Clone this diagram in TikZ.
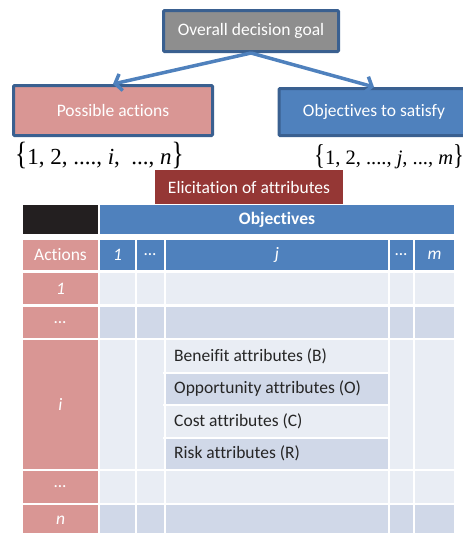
\documentclass[tikz,border=0pt]{standalone}
\usepackage{fontspec}
\usepackage{graphicx}
\setmainfont{Carlito}[Ligatures = NoCommon]
\newfontfamily\setserif{Liberation Serif}
\usetikzlibrary{arrows.meta}

\definecolor{goalgray}{HTML}{8E8E8E}
\definecolor{frameblue}{HTML}{3A6090}
\definecolor{actpink}{HTML}{D99694}
\definecolor{objblue}{HTML}{4F81BD}
\definecolor{elicitred}{HTML}{953735}
\definecolor{cellpale}{HTML}{E9EDF4}
\definecolor{celldark}{HTML}{D0D8E8}
\definecolor{cornerblack}{HTML}{231F20}

\newcommand{\tallbrace}[1]{\scalebox{1.1}[1.4]{#1}}

\tikzset{
    topbox/.style = {draw = frameblue, line width = 3pt, rounded corners = 1pt, inner sep = 0pt,
        text = white, font = \fontsize{17.5}{20}\selectfont},
    goalarrow/.style = {draw = objblue, line width = 3.5pt, -{Straight Barb[length = 6pt, width = 17pt]}},
    celltext/.style = {inner sep = 0pt, text = white, font = \fontsize{17.5}{20}\selectfont},
    attrtext/.style = {inner sep = 0pt, anchor = west, text = black!85, font = \fontsize{17.5}{20}\selectfont}
}

\begin{document}
\begin{tikzpicture}[x = 1pt, y = -1pt]
    \useasboundingbox (0,0) rectangle (463,533);
    % top part
    \node[topbox, fill = goalgray, minimum width = 175pt, minimum height = 41pt] (goal) at (251,31) {Overall decision goal};
    \node[topbox, fill = actpink, minimum width = 199pt, minimum height = 50pt] (actions) at (113,110.5) {Possible actions};
    \node[topbox, fill = objblue, minimum width = 190pt, minimum height = 47pt] (objectives) at (374,112) {Objectives to satisfy};
    \draw[goalarrow] (goal.south) -- (actions.north);
    \draw[goalarrow] (goal.south) -- (objectives.north);
    \node[anchor = base west, inner sep = 0pt, font = \fontsize{23}{25}\selectfont\setserif] (actset) at (15,164)
        {\tallbrace{\{}1, 2, ...., \textit{i}, \ ..., \textit{n}\tallbrace{\}}};
    \node[anchor = base west, inner sep = 0pt, font = \fontsize{20.5}{22}\selectfont\setserif] (objset) at (314,164)
        {\tallbrace{\{}1, 2, ...., \textit{j}, ..., \textit{m}\tallbrace{\}}};
    \node[celltext, fill = elicitred, minimum width = 188pt, minimum height = 34pt] (elicit) at (249,187) {Elicitation of attributes};
    % table head
    \fill[cornerblack] (23,205) rectangle (98,234);
    \fill[objblue] (100,205) rectangle (454,234);
    \node[celltext, font = \fontsize{17.5}{20}\selectfont\bfseries] (objhead) at (277,219.5) {Objectives};
    \begin{scope}[fill = objblue]
        \fill (100,240) rectangle (135,270);
        \fill (137,240) rectangle (164,270);
        \fill (166,240) rectangle (388,270);
        \fill (390,240) rectangle (413,270);
        \fill (415,240) rectangle (454,270);
    \end{scope}
    \node[celltext] (objone) at (117.5,255) {\textit{1}};
    \node[celltext] (objdotsa) at (150.5,255) {\textit{…}};
    \node[celltext] (objj) at (277,255) {\textit{j}};
    \node[celltext] (objdotsb) at (401.5,255) {\textit{…}};
    \node[celltext] (objm) at (434.5,255) {\textit{m}};
    % table body
    \foreach \ya/\yb/\shade in {273/304/cellpale, 307/338/celldark, 340/469/cellpale, 471/503/cellpale, 505/540/celldark}
        \foreach \xa/\xb in {100/135, 137/164, 166/388, 390/413, 415/454}
            \fill[\shade] (\xa,\ya) rectangle (\xb,\yb);
    \fill[white] (163,371.5) rectangle (389,373.5);
    \fill[white] (163,403.5) rectangle (389,405.5);
    \fill[white] (163,437) rectangle (389,439);
    \fill[celldark] (166,373.5) rectangle (388,403.5);
    \fill[celldark] (166,439) rectangle (388,469);
    \node[attrtext] (benefit) at (174,356) {Beneifit attributes (B)};
    \node[attrtext] (opportunity) at (174,388.5) {Opportunity attributes (O)};
    \node[attrtext] (cost) at (174,421) {Cost attributes (C)};
    \node[attrtext] (risk) at (174,453.5) {Risk attributes (R)};
    % action column
    \begin{scope}[fill = actpink]
        \fill (23,240) rectangle (98,270);
        \fill (23,273) rectangle (98,304);
        \fill (23,307) rectangle (98,338);
        \fill (23,340) rectangle (98,469);
        \fill (23,471) rectangle (98,503);
        \fill (23,505) rectangle (98,540);
    \end{scope}
    \node[celltext] (acthead) at (60.5,255) {Actions};
    \node[celltext] (actone) at (60.5,288.5) {\textit{1}};
    \node[celltext] (actdotsa) at (60.5,322.5) {\textit{…}};
    \node[celltext] (acti) at (60.5,404.5) {\textit{i}};
    \node[celltext] (actdotsb) at (60.5,487) {\textit{…}};
    \node[celltext] (actn) at (60.5,520) {\textit{n}};
\end{tikzpicture}
\end{document}
